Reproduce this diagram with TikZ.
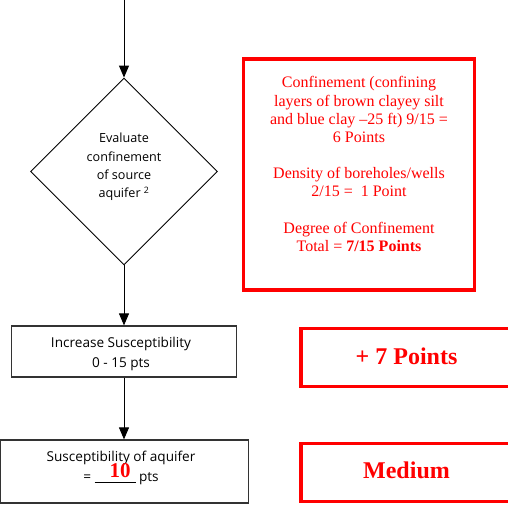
\documentclass[tikz,border=0pt]{standalone}
\usepackage{fontspec}
\setmainfont{Liberation Serif}
\newfontfamily\flowfont{Open Sans}
\usetikzlibrary{shapes.geometric,arrows.meta}
\definecolor{alertred}{RGB}{255,0,0}
\tikzset{
  flow/.style={font=\flowfont\fontsize{13.6}{19.5}\selectfont, align=center, text=black},
  flowbox/.style={draw=black!80, line width=1.2pt, inner sep=0pt},
  decision/.style={diamond, draw=black, line width=0.9pt, inner sep=0pt, aspect=1},
  note/.style={draw=alertred, line width=3.5pt, inner sep=0pt},
  notetext/.style={text=alertred, align=center},
  bignote/.style={notetext, font=\bfseries\fontsize{24}{24}\selectfont},
  link/.style={draw=black, line width=1pt, -{Triangle[length=12pt,width=10pt]}}
}
\begin{document}
\begin{tikzpicture}[x=1pt,y=-1pt]
\useasboundingbox (0,0) rectangle (508,504);
\clip (0,0) rectangle (508,504);

% flow chart
\coordinate (start) at (124,0);
\node[decision, minimum width=187pt, minimum height=187pt] (eval) at (124,171.5) {};
\node[flow, font=\flowfont\fontsize{12.6}{18.2}\selectfont] (evaltxt) at (124,167)
  {Evaluate\\confinement\\of source\\aquifer \textsuperscript{2}};
\node[flowbox, minimum width=225pt, minimum height=51pt] (inc) at (124,351.5) {};
\node[flow] (inctxt) at (121,354) {Increase Susceptibility\\0 - 15 pts};
\node[flowbox, minimum width=248pt, minimum height=63pt] (sus) at (124.5,471.5) {};
\node[flow] (sustxt) at (121,468)
  {Susceptibility of aquifer\\= \rule[-1.5pt]{41pt}{0.8pt} pts};
\node[notetext, font=\bfseries\fontsize{21}{21}\selectfont] (score) at (120,471) {10};

\draw[link] (start) -- (eval.north);
\draw[link] (eval.south) -- (eval.south |- inc.north);
\draw[link] (inc.south) -- (inc.south |- sus.north);

% scoring notes
\node[note, minimum width=231pt, minimum height=231pt] (conf) at (359,174.5) {};
\node[notetext, font=\fontsize{16}{18.2}\selectfont] (conftxt) at (359,164)
  {Confinement (confining\\layers of brown clayey silt\\and blue clay --25 ft) 9/15 =\\6 Points\\[18pt]
   Density of boreholes/wells\\2/15 =\ \ 1 Point\\[18pt]
   Degree of Confinement\\Total = \textbf{7/15 Points}};
\node[note, minimum width=220pt, minimum height=58pt] (plus) at (411,357.5) {};
\node[bignote] (plustxt) at (406.5,356) {+ 7 Points};
\node[note, minimum width=220pt, minimum height=58pt] (level) at (411,472.5) {};
\node[bignote] (leveltxt) at (406.5,470) {Medium};
\end{tikzpicture}
\end{document}
